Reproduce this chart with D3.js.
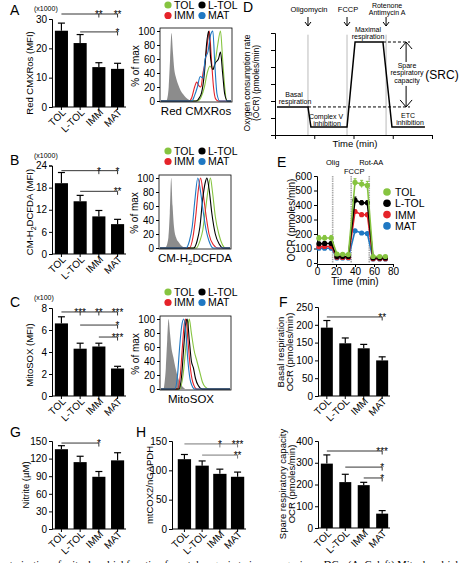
<!DOCTYPE html>
<html><head><meta charset="utf-8">
<script src="https://cdn.jsdelivr.net/npm/d3@7"></script>
<style>
body{margin:0;background:#fff}
svg{display:block}
text{font-family:"Liberation Sans",Arial,Helvetica,sans-serif;fill:#000}
</style>
</head><body>
<svg id="c" width="474" height="563"></svg>
<script>
// ---------------- DATA ----------------
const categories = ["TOL","L-TOL","IMM","MAT"];

// A: Red CMXRos (MFI, x1000)
const cmxrosMean = [26.0, 21.8, 13.6, 13.0];
const cmxrosErr  = [2.6, 2.9, 1.5, 1.9];
const cmxrosTicks = [0, 10, 20, 30];
const cmxrosSig = [
  {from:"TOL",   y:31.7, marks:[["IMM","**"],["MAT","**"]]},
  {from:"L-TOL", y:25.6, marks:[["MAT","*"]]}
];
// B: CM-H2DCFDA (MFI, x1000)
const dcfdaMean = [19.2, 14.3, 10.2, 8.1];
const dcfdaErr  = [2.9, 1.6, 1.6, 1.3];
const dcfdaTicks = [0, 6, 12, 18, 24];
const dcfdaSig = [
  {from:"TOL",   y:22.6, marks:[["IMM","*"],["MAT","*"]]},
  {from:"L-TOL", y:17.0, marks:[["MAT","**"]]}
];
// C: MitoSOX (MFI, x100)
const mitosoxMean = [6.6, 4.3, 4.5, 2.5];
const mitosoxErr  = [0.6, 0.5, 0.3, 0.2];
const mitosoxTicks = [0, 2, 4, 6, 8];
const mitosoxSig = [
  {from:"TOL",   y:7.64, marks:[["L-TOL","***"],["IMM","**"],["MAT","***"]]},
  {from:"L-TOL", y:6.45, marks:[["MAT","*"]]},
  {from:"IMM",   y:5.36, marks:[["MAT","***"]]}
];
// G: Nitrite (uM)
const nitriteMean = [136, 114, 89, 117];
const nitriteErr  = [6, 10, 9, 13];
const nitriteTicks = [0, 30, 60, 90, 120, 150];
const nitriteSig = [{from:"TOL", y:146.5, marks:[["IMM","*"]]}];
// H: mtCOX2/nGAPDH
const cox2Mean = [119, 108, 94, 89];
const cox2Err  = [8, 8, 8, 8];
const cox2Ticks = [0, 50, 100, 150];
const cox2Sig = [
  {from:"TOL",   y:145, marks:[["IMM","*"],["MAT","***"]]},
  {from:"L-TOL", y:126, marks:[["MAT","**"]]}
];
// F: Basal respiration OCR
const basalMean = [192, 148, 134, 100];
const basalErr  = [20, 15, 11, 10];
const basalTicks = [0, 50, 100, 150, 200, 250];
const basalSig = [{from:"TOL", y:222, marks:[["MAT","**"]]}];
// Spare respiratory capacity OCR
const srcMean = [296, 211, 197, 66];
const srcErr  = [40, 36, 13, 14];
const srcTicks = [0, 100, 200, 300, 400];
const srcSig = [
  {from:"TOL",   y:354, marks:[["MAT","***"]]},
  {from:"L-TOL", y:280, marks:[["MAT","*"]]},
  {from:"IMM",   y:230, marks:[["MAT","*"]]}
];

// Histograms: [fluorescence (0-100 log position), % of max]
const cmxrosIso  = [[8,0],[11,20],[13,60],[15,97],[17,70],[19,45],[21,35],[24,25],[28,15],[33,8],[38,3],[44,0]];
const cmxrosTOL  = [[52,0],[57,5],[62,20],[66,40],[70,50],[74,45],[78,60],[81,80],[85,100],[88,60],[91,20],[94,0]];
const cmxrosLTOL = [[50,0],[55,5],[58,12],[62,40],[65,80],[68,100],[71,60],[74,45],[78,55],[82,60],[85,70],[88,40],[91,10],[95,0]];
const cmxrosIMM  = [[40,0],[44,5],[48,20],[51,27],[54,22],[57,20],[60,40],[63,55],[66,80],[69,100],[72,60],[75,20],[78,3],[82,0]];
const cmxrosMAT  = [[44,0],[48,8],[52,20],[56,35],[60,33],[63,60],[67,70],[71,95],[74,100],[77,50],[80,10],[84,0]];

const dcfdaIso  = [[8,0],[12,15],[14,50],[16,100],[18,60],[20,30],[23,15],[27,8],[32,2],[36,0]];
const dcfdaTOL  = [[52,0],[57,10],[61,25],[65,55],[69,85],[72,100],[75,80],[79,45],[84,20],[89,5],[94,0]];
const dcfdaLTOL = [[48,0],[53,10],[57,30],[61,70],[65,95],[67,100],[70,85],[74,50],[79,20],[85,5],[90,0]];
const dcfdaIMM  = [[42,0],[47,15],[51,45],[55,85],[58,100],[62,75],[66,45],[70,20],[76,5],[83,0]];
const dcfdaMAT  = [[37,0],[42,10],[46,30],[50,70],[54,100],[58,80],[62,50],[66,25],[70,10],[76,0]];

const mitosoxIso  = [[4,0],[7,30],[9,70],[11,100],[13,80],[15,60],[18,45],[21,30],[25,15],[30,5],[35,0]];
const mitosoxTOL  = [[27,0],[32,20],[36,60],[39,90],[41,100],[44,80],[48,55],[52,40],[56,25],[60,10],[64,3],[70,0]];
const mitosoxLTOL = [[26,0],[30,20],[33,60],[36,95],[38,100],[41,70],[44,40],[47,30],[50,15],[54,5],[60,0]];
const mitosoxIMM  = [[24,0],[28,20],[31,60],[34,95],[36,100],[39,70],[42,35],[46,10],[52,0]];
const mitosoxMAT  = [[20,0],[24,20],[27,60],[30,90],[33,100],[36,80],[39,40],[43,10],[49,0]];

// D: schematic Mito stress test profile
const profileTime = [1, 16.8, 18.3, 36.7, 40.8, 55, 59.6, 76.4];
const profileOcr  = [1.65, 1.65, 0.47, 0.47, 5.47, 5.47, 0.47, 0.47];
const injectionTimesD = [16.8, 36.7, 56.6];

// E: OCR time course
const ocrTime = [2, 8, 15, 21, 27, 33, 40, 47, 53, 59, 66, 72];
const ocrTOL  = [171, 172, 172, 62, 60, 58, 556, 545, 535, 45, 45, 45];
const ocrLTOL = [132, 135, 135, 45, 45, 45, 433, 415, 415, 35, 35, 35];
const ocrIMM  = [112, 114, 114, 40, 38, 38, 355, 333, 333, 30, 30, 30];
const ocrMAT  = [102, 102, 102, 35, 35, 35, 222, 207, 203, 28, 28, 28];
const ocrTOLErr  = [18, 18, 18, 10, 10, 10, 25, 25, 28, 8, 8, 8];
const ocrLTOLErr = [12, 12, 12, 6, 6, 6, 22, 15, 15, 5, 5, 5];
const ocrIMMErr  = [8, 8, 8, 5, 5, 5, 12, 10, 10, 4, 4, 4];
const ocrMATErr  = [6, 6, 6, 4, 4, 4, 10, 8, 8, 4, 4, 4];
const ocrTicksY = [0, 100, 200, 300, 400, 500, 600];
const ocrTicksX = [0, 20, 40, 60, 80];
const injectionTimesE = [16.5, 36, 55];

// ---------------- DRAWING ----------------
const COL = {"TOL":"#86c440","L-TOL":"#000000","IMM":"#e52329","MAT":"#1f78c3"};
const svg = d3.select("#c");
svg.append("rect").attr("width",474).attr("height",563).attr("fill","#fff");

function text(g, x, y, s, o = {}) {
  const t = g.append("text").attr("x", x).attr("y", y).text(s)
    .attr("font-size", o.size || 10)
    .attr("text-anchor", o.anchor || "start");
  if (o.weight) t.attr("font-weight", o.weight);
  if (o.fill) t.style("fill", o.fill);
  if (o.rotate) t.attr("transform", `rotate(${o.rotate},${x},${y})`);
  if (o.len) t.attr("textLength", o.len).attr("lengthAdjust", "spacingAndGlyphs");
  if (o.family) t.style("font-family", o.family);
  return t;
}

function styleAxis(a) {
  a.selectAll("path.domain").attr("stroke", "#000").attr("stroke-width", 1);
  a.selectAll(".tick line").attr("stroke", "#000").attr("stroke-width", 1);
  a.selectAll(".tick text").attr("font-size", 10).style("font-family", '"Liberation Sans",Arial,sans-serif').attr("fill", "#000");
}

function barPanel(o) {
  const g = svg.append("g");
  const x = d3.scaleBand().domain(categories).range(o.xr).paddingInner(o.pi).paddingOuter(0.1);
  const y = d3.scaleLinear().domain([0, d3.max(o.ticks)]).range(o.yr);
  const bw = x.bandwidth();
  const cx = c => x(c) + bw / 2;
  const ya = g.append("g").attr("transform", `translate(${o.ax},0)`)
    .call(d3.axisLeft(y).tickValues(o.ticks).tickSize(3).tickPadding(2).tickFormat(d3.format("d")));
  styleAxis(ya);
  const xa = g.append("g").attr("transform", `translate(0,${o.yr[0]})`)
    .call(d3.axisBottom(x).tickSize(3).tickFormat(""));
  styleAxis(xa);
  xa.select("path.domain").remove();
  g.append("line").attr("x1", o.ax).attr("x2", o.xr[1]).attr("y1", o.yr[0]).attr("y2", o.yr[0]).attr("stroke", "#000");
  categories.forEach(c => {
    text(g, cx(c) + 5, o.yr[0] + 6, c, {anchor: "end", rotate: -45, size: 10});
  });
  g.selectAll("rect.bar").data(categories).enter().append("rect")
    .attr("x", c => x(c)).attr("width", bw)
    .attr("y", (c, i) => y(o.mean[i])).attr("height", (c, i) => y(0) - y(o.mean[i]))
    .attr("fill", "#000");
  categories.forEach((c, i) => {
    const top = y(o.mean[i] + o.err[i]);
    g.append("line").attr("x1", cx(c)).attr("x2", cx(c)).attr("y1", y(o.mean[i])).attr("y2", top).attr("stroke", "#000").attr("stroke-width", 1.2);
    g.append("line").attr("x1", cx(c) - 3.5).attr("x2", cx(c) + 3.5).attr("y1", top).attr("y2", top).attr("stroke", "#000").attr("stroke-width", 1.2);
  });
  o.sig.forEach(s => {
    const yy = y(s.y);
    const last = s.marks[s.marks.length - 1][0];
    g.append("line").attr("x1", cx(s.from)).attr("x2", cx(last)).attr("y1", yy).attr("y2", yy).attr("stroke", o.sigColor || "#000").attr("stroke-width", 0.8);
    s.marks.forEach(m => {
      g.append("line").attr("x1", cx(m[0])).attr("x2", cx(m[0])).attr("y1", yy).attr("y2", yy + 3.5).attr("stroke", o.sigColor || "#000").attr("stroke-width", 0.8);
      text(g, cx(m[0]), yy + 4, m[1], {anchor: "middle", size: 10});
    });
  });
  return {g, x, y};
}

function vlabel(x, y, s, size, len) {
  const t = text(svg, x, y, s, {anchor: "middle", rotate: -90, size: size, len: len});
  return t;
}

// ---------- Panel letters ----------
[["A",10,15],["B",10,165],["C",10,307],["G",10,437],["H",136,437],["D",243,12],["E",277,167],["F",279,307]]
  .forEach(d => text(svg, d[1], d[2], d[0], {size: 14}));

// ---------- A ----------
barPanel({xr:[53,126], pi:0.3, ax:52, yr:[107,19], ticks:cmxrosTicks, mean:cmxrosMean, err:cmxrosErr, sig:cmxrosSig});
text(svg, 34, 11, "(x1000)", {size: 7});
vlabel(33, 73, "Red CMXRos (MFI)", 9.5);

// ---------- B ----------
barPanel({xr:[53,126], pi:0.3, ax:52, yr:[254,165.5], ticks:dcfdaTicks, mean:dcfdaMean, err:dcfdaErr, sig:dcfdaSig});
text(svg, 34, 158, "(x1000)", {size: 7});
{
  const t = svg.append("text").attr("font-size", 9.5).attr("text-anchor", "middle")
    .attr("transform", "translate(33,212) rotate(-90)");
  t.append("tspan").text("CM-H");
  t.append("tspan").text("2").attr("font-size", 7).attr("dy", 2.5);
  t.append("tspan").text("DCFDA (MFI)").attr("dy", -2.5);
}

// ---------- C ----------
barPanel({xr:[53,126], pi:0.3, ax:52, yr:[396,308], ticks:mitosoxTicks, mean:mitosoxMean, err:mitosoxErr, sig:mitosoxSig});
text(svg, 34, 300, "(x100)", {size: 7});
vlabel(33, 355, "MitoSOX (MFI)", 9.5);

// ---------- G ----------
barPanel({xr:[53,126], pi:0.3, ax:52, yr:[529,441], ticks:nitriteTicks, mean:nitriteMean, err:nitriteErr, sig:nitriteSig});
vlabel(29, 485, "Nitrite (\u00b5M)", 9.5);

// ---------- H ----------
barPanel({xr:[176,246], pi:0.25, ax:172, yr:[529,441], ticks:cox2Ticks, mean:cox2Mean, err:cox2Err, sig:cox2Sig, sigColor:"#555"});
vlabel(153, 485, "mtCOX2/nGAPDH", 9.5);

// ---------- F ----------
barPanel({xr:[319,390], pi:0.35, ax:318, yr:[396,307], ticks:basalTicks, mean:basalMean, err:basalErr, sig:basalSig});
vlabel(284, 352, "Basal respiration", 9.5);
vlabel(293, 352, "OCR (pmoles/min)", 9.5);

// ---------- SRC ----------
barPanel({xr:[319,390], pi:0.35, ax:318, yr:[528,441], ticks:srcTicks, mean:srcMean, err:srcErr, sig:srcSig});
vlabel(286, 484, "Spare respiratory capacity", 9.5);
vlabel(295, 484, "OCR (pmoles/min)", 9.5);

// ---------- Histograms ----------
function histPanel(o) {
  const g = svg.append("g");
  const x = d3.scaleLinear().domain([0, 100]).range([o.x0 + 1, o.x1 - 1]);
  const y = d3.scaleLinear().domain([0, 100]).range([o.y0, o.y100]);
  const [dx0, dx1] = x.domain();
  const full = pts => [[dx0, 0], ...pts, [dx1, 0]];
  const area = d3.area().x(d => x(d[0])).y0(y(0)).y1(d => y(d[1])).curve(d3.curveMonotoneX);
  const line = d3.line().x(d => x(d[0])).y(d => y(d[1])).curve(d3.curveMonotoneX);
  g.append("path").attr("d", area(o.iso)).attr("fill", "#8c8c8c");
  [["TOL", o.tol], ["IMM", o.imm], ["L-TOL", o.ltol], ["MAT", o.mat]].forEach(([k, pts]) => {
    g.append("path").attr("d", line(full(pts))).attr("fill", "none").attr("stroke", COL[k]).attr("stroke-width", 1.1);
  });
  g.append("rect").attr("x", o.x0).attr("y", o.top).attr("width", o.x1 - o.x0).attr("height", o.y0 + 1 - o.top)
    .attr("fill", "none").attr("stroke", "#000").attr("stroke-width", 0.8);
  const ya = g.append("g").attr("transform", `translate(${o.x0},0)`)
    .call(d3.axisLeft(y).tickValues([0, 20, 40, 60, 80, 100]).tickSize(3).tickPadding(2));
  styleAxis(ya);
  ya.select("path.domain").remove();
  vlabel(o.x0 - 21, (o.y0 + o.y100) / 2, "% of max", 10);
  // legend
  [["TOL", 0, 0], ["L-TOL", 1, 0], ["IMM", 0, 1], ["MAT", 1, 1]].forEach(([k, c, r]) => {
    const lx = 168 + c * 34, ly = o.leg + r * 10.5;
    g.append("circle").attr("cx", lx).attr("cy", ly).attr("r", 3.6).attr("fill", COL[k]);
    text(g, lx + 6, ly + 3.8, k, {size: 10.5});
  });
  return g;
}
histPanel({x0:160, x1:232, top:28, y0:101, y100:31, leg:5, iso:cmxrosIso, tol:cmxrosTOL, ltol:cmxrosLTOL, imm:cmxrosIMM, mat:cmxrosMAT});
text(svg, 196, 115, "Red CMXRos", {anchor: "middle", size: 11.5});
histPanel({x0:159, x1:231, top:175, y0:248, y100:178, leg:151, iso:dcfdaIso, tol:dcfdaTOL, ltol:dcfdaLTOL, imm:dcfdaIMM, mat:dcfdaMAT});
{
  const t = svg.append("text").attr("x", 195).attr("y", 262).attr("font-size", 11.5).attr("text-anchor", "middle");
  t.append("tspan").text("CM-H");
  t.append("tspan").text("2").attr("font-size", 8).attr("dy", 3);
  t.append("tspan").text("DCFDA").attr("dy", -3);
}
histPanel({x0:160, x1:231, top:316, y0:389, y100:319, leg:292, iso:mitosoxIso, tol:mitosoxTOL, ltol:mitosoxLTOL, imm:mitosoxIMM, mat:mitosoxMAT});
text(svg, 191, 403, "MitoSOX", {anchor: "middle", size: 11.5});

// ---------- D ----------
{
  const g = svg.append("g");
  const x = d3.scaleLinear().domain([0, 80]).range([275, 432]);
  const y = d3.scaleLinear().domain([0, 6]).range([135, 33]);
  injectionTimesD.forEach(t => g.append("line").attr("x1", x(t)).attr("x2", x(t)).attr("y1", y(5.9)).attr("y2", y(0)).attr("stroke", "#bbb").attr("stroke-width", 1));
  const ya = g.append("g").attr("transform", "translate(275,0)").call(d3.axisLeft(y).ticks(6).tickSize(4).tickFormat(""));
  styleAxis(ya);
  const xa = g.append("g").attr("transform", "translate(0,135)").call(d3.axisBottom(x).tickValues([0,20,40,60,80]).tickSize(4).tickFormat(""));
  styleAxis(xa);
  const basal = profileOcr[0], maxr = d3.max(profileOcr);
  const dashEnd = 68.8;
  g.append("line").attr("x1", x(profileTime[1])).attr("x2", x(dashEnd)).attr("y1", y(basal)).attr("y2", y(basal)).attr("stroke", "#000").attr("stroke-dasharray", "3,2");
  g.append("line").attr("x1", x(profileTime[5])).attr("x2", x(dashEnd)).attr("y1", y(maxr)).attr("y2", y(maxr)).attr("stroke", "#000").attr("stroke-dasharray", "3,2");
  g.append("path").attr("d", d3.line().x((d, i) => x(profileTime[i])).y(d => y(d))(profileOcr))
    .attr("fill", "none").attr("stroke", "#000").attr("stroke-width", 1.5);
  // double arrow
  const ax = x(66.8);
  const a1 = y(maxr), a2 = y(basal);
  g.append("line").attr("x1", ax).attr("x2", ax).attr("y1", a1).attr("y2", a1 + 20).attr("stroke", "#000");
  g.append("line").attr("x1", ax).attr("x2", ax).attr("y1", a2 - 21).attr("y2", a2).attr("stroke", "#000");
  g.append("path").attr("d", `M${ax-6},${a1+7}L${ax},${a1}L${ax+6},${a1+7}`).attr("fill", "none").attr("stroke", "#000");
  g.append("path").attr("d", `M${ax-6},${a2-7}L${ax},${a2}L${ax+6},${a2-7}`).attr("fill", "none").attr("stroke", "#000");
  // injection arrows
  const names = [["Oligomycin"], ["FCCP"], ["Rotenone", "Antimycin A"]];
  injectionTimesD.forEach((t, i) => {
    const xx = x(t);
    g.append("line").attr("x1", xx).attr("x2", xx).attr("y1", 17).attr("y2", 26).attr("stroke", "#000");
    g.append("path").attr("d", `M${xx-3},${22}L${xx},${26}L${xx+3},${22}`).attr("fill", "none").attr("stroke", "#000");
    const nm = names[i];
    if (nm.length === 1) text(g, xx + 1, 12, nm[0], {anchor: "middle", size: 7.5});
    else { text(g, xx + 1, 7.5, nm[0], {anchor: "middle", size: 7}); text(g, xx + 1, 14.5, nm[1], {anchor: "middle", size: 7}); }
  });
  const S = 7;
  text(g, 294, 96.5, "Basal", {anchor: "middle", size: S});
  text(g, 295, 104, "respiration", {anchor: "middle", size: S});
  text(g, 368, 31.5, "Maximal", {anchor: "middle", size: S});
  text(g, 368, 39, "respiration", {anchor: "middle", size: S});
  text(g, 326, 118.5, "Complex V", {anchor: "middle", size: S});
  text(g, 327, 126, "inhibition", {anchor: "middle", size: S});
  text(g, 408, 117.5, "ETC", {anchor: "middle", size: S});
  text(g, 410, 125, "inhibition", {anchor: "middle", size: S});
  text(g, 407, 67.5, "Spare", {anchor: "middle", size: S});
  text(g, 407, 75, "respiratory", {anchor: "middle", size: S});
  text(g, 407, 82.5, "capacity", {anchor: "middle", size: S});
  text(g, 442, 79, "(SRC)", {anchor: "middle", size: 12});
  text(g, 355, 147, "Time (min)", {anchor: "middle", size: 9.5});
  vlabel(250, 83, "Oxygen consumption rate", 8.5);
  vlabel(259, 83, "(OCR) (pmoles/min)", 8.5);
}

// ---------- E ----------
{
  const g = svg.append("g");
  const x = d3.scaleLinear().domain([0, 80]).range([317, 393]);
  const y = d3.scaleLinear().domain([0, 600]).range([263, 176]);
  injectionTimesE.forEach(t => {
    g.append("line").attr("x1", x(t)).attr("x2", x(t)).attr("y1", y(600)).attr("y2", y(0)).attr("stroke", "#aaa").attr("stroke-width", 1.6).attr("stroke-dasharray", "1.5,0.8");
  });
  const ya = g.append("g").attr("transform", "translate(317,0)").call(d3.axisLeft(y).tickValues(ocrTicksY).tickSize(3).tickPadding(2));
  styleAxis(ya);
  const xa = g.append("g").attr("transform", "translate(0,264)").call(d3.axisBottom(x).tickValues(ocrTicksX).tickSize(3).tickPadding(1));
  styleAxis(xa);
  const series = [["MAT", ocrMAT, ocrMATErr], ["IMM", ocrIMM, ocrIMMErr], ["L-TOL", ocrLTOL, ocrLTOLErr], ["TOL", ocrTOL, ocrTOLErr]];
  series.forEach(([k, vals, errs]) => {
    g.append("path").attr("d", d3.line().x((d, i) => x(ocrTime[i])).y(d => y(d))(vals))
      .attr("fill", "none").attr("stroke", COL[k]).attr("stroke-width", 1.6);
    vals.forEach((v, i) => {
      g.append("line").attr("x1", x(ocrTime[i])).attr("x2", x(ocrTime[i])).attr("y1", y(v - errs[i])).attr("y2", y(v + errs[i])).attr("stroke", COL[k]).attr("stroke-width", 1);
      g.append("line").attr("x1", x(ocrTime[i]) - 1.5).attr("x2", x(ocrTime[i]) + 1.5).attr("y1", y(v + errs[i])).attr("y2", y(v + errs[i])).attr("stroke", COL[k]).attr("stroke-width", 1);
      g.append("circle").attr("cx", x(ocrTime[i])).attr("cy", y(v)).attr("r", 2.6).attr("fill", COL[k]);
    });
  });
  text(g, x(injectionTimesE[0]), 165, "Olig", {anchor: "middle", size: 7.5});
  text(g, x(injectionTimesE[1]) + 3, 174, "FCCP", {anchor: "middle", size: 7.5});
  text(g, x(injectionTimesE[2]) + 2, 165, "Rot-AA", {anchor: "middle", size: 7.5});
  text(g, 355, 285, "Time (min)", {anchor: "middle", size: 10});
  vlabel(295, 220, "OCR (pmoles/min)", 10);
  ["TOL", "L-TOL", "IMM", "MAT"].forEach((k, i) => {
    const ly = 192 + i * 11.3;
    g.append("circle").attr("cx", 387).attr("cy", ly).attr("r", 3.8).attr("fill", COL[k]);
    text(g, 395, ly + 4, k, {size: 10.5});
  });
}

// ---------- caption (cut off at bottom, as in the source figure) ----------
text(svg, -18, 568, "characterization of mitochondrial function from tolerogenic to immunogenic moDCs. (A\u2013C, left) Mitochondrial mass",
  {size: 11, family: '"Liberation Serif","DejaVu Serif",serif', len: 500});
</script>
</body></html>
